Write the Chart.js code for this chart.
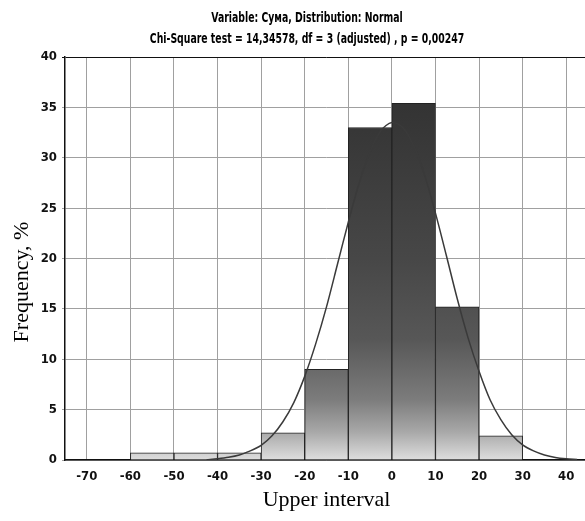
<!DOCTYPE html>
<html>
<head>
<meta charset="utf-8">
<script src="https://cdn.jsdelivr.net/npm/chart.js@4.4.0/dist/chart.umd.min.js"></script>
<style>
  body { margin: 0; background: #fff; overflow: hidden; }
</style>
</head>
<body>
<canvas id="histogram" width="590" height="521"></canvas>
<script>
// histogram bins (center of each 10-wide interval) and frequency, %
var binCenters = [-55, -45, -35, -25, -15, -5, 5, 15, 25];
var frequencies = [0.7, 0.7, 0.7, 2.7, 9.0, 33.0, 35.4, 15.2, 2.4];

// fitted normal curve
var curveX = [-42.5, -40, -37.5, -35, -32.5, -30, -27.5, -25, -22.5, -20, -17.5, -15, -12.5, -10, -7.5, -5, -2.5,
              0, 2.5, 5, 7.5, 10, 12.5, 15, 17.5, 20, 22.5, 25, 27.5, 30, 32.5, 35, 37.5, 40, 42.5];
var curveY = [0.03, 0.13, 0.27, 0.5, 0.9, 1.45, 2.4, 3.8, 5.7, 8.3, 11.5, 15.2, 19.4, 23.6, 27.5, 30.6, 32.7,
              33.5, 33.0, 31.2, 28.3, 24.5, 20.3, 16.0, 12.1, 8.8, 6.0, 4.0, 2.5, 1.5, 0.9, 0.5, 0.25, 0.12, 0.05];

var xTicks = [-70, -60, -50, -40, -30, -20, -10, 0, 10, 20, 30, 40];
var yTicks = [0, 5, 10, 15, 20, 25, 30, 35, 40];

var titleLines = ["Variable: Сума, Distribution: Normal",
                  "Chi-Square test = 14,34578, df = 3 (adjusted) , p = 0,00247"];

var narrow = "'Liberation Sans Narrow', 'DejaVu Sans Condensed', 'Arial Narrow', sans-serif";
var serif = "'Liberation Serif', 'DejaVu Serif', serif";

var barData = binCenters.map(function (x, i) { return { x: x, y: frequencies[i] }; });
var curveData = curveX.map(function (x, i) { return { x: x, y: curveY[i] }; });

function barGradient(ctx) {
    var area = ctx.chart.chartArea;
    if (!area) return '#666';
    var g = ctx.chart.ctx.createLinearGradient(0, area.top, 0, area.bottom);
    g.addColorStop(0, '#303030');
    g.addColorStop(0.125, '#343434');
    g.addColorStop(0.5, '#474747');
    g.addColorStop(0.7, '#575757');
    g.addColorStop(0.85, '#7c7c7c');
    g.addColorStop(0.93, '#a8a8a8');
    g.addColorStop(1, '#dedede');
    return g;
}

function fixedTicks(values) {
    return function (s) {
        s.ticks = values.map(function (v) { return { value: v }; });
    };
}

// title (squeezed like the narrow font of the original) and the y axis title,
// which sits a bit below the middle of the plot
var extraText = {
    id: 'extraText',
    afterDraw: function (chart) {
        var c = chart.ctx;
        c.save();
        c.fillStyle = '#000';
        c.textAlign = 'center';
        c.textBaseline = 'middle';
        c.font = 'bold 14px ' + narrow;
        c.translate(307, 0);
        c.scale(0.74, 1);
        c.fillText(titleLines[0], 0, 18);
        c.fillText(titleLines[1], 0, 39);
        c.restore();

        c.save();
        c.translate(22, 282);
        c.rotate(-Math.PI / 2);
        c.font = '22px ' + serif;
        c.fillStyle = '#000';
        c.textAlign = 'center';
        c.textBaseline = 'middle';
        c.fillText('Frequency, %', 0, 0);
        c.restore();
    }
};

new Chart(document.getElementById("histogram"), {
    type: 'bar',
    data: {
        datasets: [
            {
                type: 'line',
                data: curveData,
                borderColor: '#3a3a3a',
                borderWidth: 1.5,
                pointRadius: 0,
                tension: 0.3,
                order: 0
            },
            {
                type: 'bar',
                data: barData,
                backgroundColor: barGradient,
                borderColor: '#222',
                borderWidth: 1,
                categoryPercentage: 1,
                barPercentage: 1,
                order: 1
            }
        ]
    },
    options: {
        responsive: false,
        animation: false,
        layout: { padding: { left: 0, right: 2, top: 57, bottom: 0 } },
        plugins: {
            legend: { display: false },
            tooltip: { enabled: false },
            title: { display: false }
        },
        scales: {
            x: {
                type: 'linear',
                min: -75,
                max: 45,
                offset: false,
                afterBuildTicks: fixedTicks(xTicks),
                afterFit: function (s) { s.height = 61; },
                ticks: {
                    autoSkip: false,
                    color: '#111',
                    padding: 9,
                    maxRotation: 0,
                    font: { family: narrow, size: 13, weight: 'bold' }
                },
                grid: { color: '#a0a0a0', lineWidth: 1, drawTicks: false, offset: false },
                border: { color: '#111', width: 1.5 },
                title: {
                    display: true,
                    text: 'Upper interval',
                    color: '#000',
                    font: { family: serif, size: 22 },
                    padding: { top: 0, bottom: 8 }
                }
            },
            y: {
                min: 0,
                max: 40,
                afterBuildTicks: fixedTicks(yTicks),
                afterFit: function (s) { s.width = 65; },
                ticks: {
                    color: '#111',
                    padding: 5,
                    font: { family: narrow, size: 13, weight: 'bold' }
                },
                grid: {
                    color: function (ctx) { return ctx.tick && ctx.tick.value === 40 ? '#111' : '#a0a0a0'; },
                    lineWidth: 1,
                    tickLength: 3
                },
                border: { color: '#111', width: 1.5 }
            }
        }
    },
    plugins: [extraText]
});
</script>
</body>
</html>
